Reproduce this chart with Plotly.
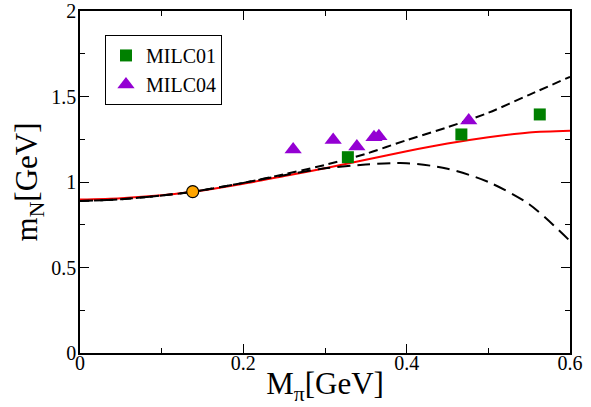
import plotly.graph_objects as go

# Curves
curve_x = [0.0, 0.05, 0.10, 0.14, 0.20, 0.25, 0.30, 0.35, 0.40, 0.45, 0.50, 0.55, 0.60]
red_fit = [0.897, 0.905, 0.922, 0.944, 0.990, 1.035, 1.080, 1.130, 1.180, 1.225, 1.262, 1.290, 1.300]
upper_dash = [0.889, 0.899, 0.921, 0.944, 0.995, 1.045, 1.100, 1.165, 1.245, 1.320, 1.405, 1.510, 1.615]
lower_dash = [0.889, 0.899, 0.921, 0.944, 0.995, 1.040, 1.080, 1.102, 1.110, 1.078, 1.000, 0.870, 0.655]

# Lattice data
milc01_x = [0.328, 0.467, 0.563]
milc01_y = [1.145, 1.278, 1.395]
milc04_x = [0.261, 0.310, 0.339, 0.360, 0.366, 0.476]
milc04_y = [1.190, 1.246, 1.207, 1.262, 1.268, 1.359]

phys_x = [0.138]
phys_y = [0.944]

FONT = "Liberation Serif"

fig = go.Figure()
fig.add_trace(go.Scatter(x=curve_x, y=red_fit, mode="lines",
                         line=dict(color="red", width=2, shape="spline", smoothing=0.8),
                         showlegend=False, hoverinfo="skip"))
fig.add_trace(go.Scatter(x=curve_x, y=upper_dash, mode="lines",
                         line=dict(color="black", width=2, dash="9px,5px", shape="spline", smoothing=0.8),
                         showlegend=False, hoverinfo="skip"))
fig.add_trace(go.Scatter(x=curve_x, y=lower_dash, mode="lines",
                         line=dict(color="black", width=2, dash="13px,7px", shape="spline", smoothing=0.8),
                         showlegend=False, hoverinfo="skip"))
fig.add_trace(go.Scatter(x=milc01_x, y=milc01_y, mode="markers", name="MILC01",
                         marker=dict(symbol="square", size=12, color="#008000")))
fig.add_trace(go.Scatter(x=milc04_x, y=milc04_y, mode="markers", name="MILC04",
                         marker=dict(symbol="triangle-up", size=15, color="#9400d3")))
fig.add_trace(go.Scatter(x=phys_x, y=phys_y, mode="markers", showlegend=False,
                         marker=dict(symbol="circle", size=12, color="orange",
                                     line=dict(color="black", width=1.2))))

axis_common = dict(
    showgrid=False, zeroline=False, showline=True, linecolor="black", linewidth=1.5,
    mirror="allticks", ticks="inside", ticklen=9, tickwidth=1, tickcolor="black",
    tickfont=dict(family=FONT, size=20, color="black"), automargin=False,
    ticklabeloverflow="allow",
)
fig.update_xaxes(range=[0, 0.6], tickvals=[0, 0.2, 0.4, 0.6], ticktext=["0", "0.2", "0.4", "0.6"],
                 minor=dict(ticks="inside", ticklen=5, dtick=0.1, tick0=0, tickcolor="black", showgrid=False),
                 ticklabelstandoff=-9,
                 title=dict(text="M<sub>π</sub>[GeV]", font=dict(family=FONT, size=31, color="black"), standoff=0),
                 **axis_common)
fig.update_yaxes(range=[0, 2], tickvals=[0, 0.5, 1, 1.5, 2], ticktext=["0", "0.5", "1", "1.5", "2"],
                 minor=dict(ticks="inside", ticklen=5, dtick=0.25, tick0=0, tickcolor="black", showgrid=False),
                 ticklabelstandoff=-2,
                 title=dict(text="m<sub>N</sub>[GeV]", font=dict(family=FONT, size=31, color="black"), standoff=4),
                 **axis_common)

fig.update_layout(
    width=591, height=407,
    margin=dict(l=80, r=21, t=11, b=54),
    font=dict(family=FONT, color="black"),
    plot_bgcolor="white", paper_bgcolor="white",
    legend=dict(x=0.051, y=0.93, xanchor="left", yanchor="top",
                bordercolor="black", borderwidth=1, bgcolor="white",
                font=dict(family=FONT, size=20, color="black"),
                itemwidth=30, tracegroupgap=2),
)

fig.write_html("out.html")
